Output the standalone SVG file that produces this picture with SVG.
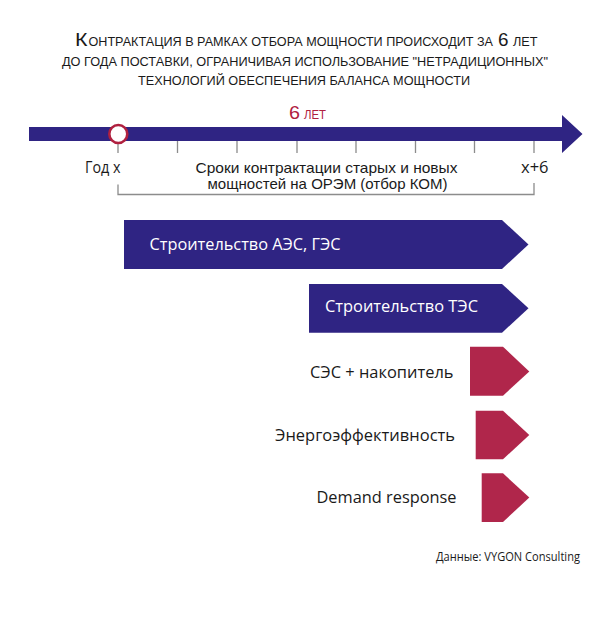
<svg xmlns="http://www.w3.org/2000/svg" width="612" height="618" viewBox="0 0 612 618">
<style>
text { font-family: "Open Sans", "Noto Sans", "DejaVu Sans", sans-serif; fill: #1a1a1a; }
.title { font-family: "Liberation Sans", Arial, sans-serif; font-size: 12.6px; }
.big { font-family: "Liberation Sans", Arial, sans-serif; font-size: 19px; }
.lbl { font-size: 16px; }
.plbl { font-family: "Liberation Sans", Arial, sans-serif; font-size: 15px; }
.wlbl { font-size: 17px; fill: #ffffff; }
.blbl { font-size: 17px; }
.rtx { fill: #b0203f; }
.blue { fill: #2f2483; }
.red { fill: #b0264b; }
.tick { stroke: #8c8c8c; stroke-width: 1.3; fill: none; }
</style>
<rect width="612" height="618" fill="#ffffff"/>
<g id="title">
  <text class="big" x="75" y="45.5" textLength="12.5" lengthAdjust="spacingAndGlyphs">К</text>
  <text class="title" x="88.5" y="45.5" textLength="404.5" lengthAdjust="spacingAndGlyphs">ОНТРАКТАЦИЯ В РАМКАХ ОТБОРА МОЩНОСТИ ПРОИСХОДИТ ЗА</text>
  <text class="big" x="498" y="45.5" textLength="10.5" lengthAdjust="spacingAndGlyphs">6</text>
  <text class="title" x="513" y="45.5" textLength="24.5" lengthAdjust="spacingAndGlyphs">ЛЕТ</text>
  <text class="title" x="62" y="65.5" textLength="486" lengthAdjust="spacingAndGlyphs">ДО ГОДА ПОСТАВКИ, ОГРАНИЧИВАЯ ИСПОЛЬЗОВАНИЕ "НЕТРАДИЦИОННЫХ"</text>
  <text class="title" x="138" y="85" textLength="332" lengthAdjust="spacingAndGlyphs">ТЕХНОЛОГИЙ ОБЕСПЕЧЕНИЯ БАЛАНСА МОЩНОСТИ</text>
</g>
<g id="timeline">
  <path class="blue" d="M29,127 H562 V115 L582.5,134 L562,153 V141 H29 Z"/>
  <text class="big rtx" x="289" y="119" textLength="11" lengthAdjust="spacingAndGlyphs">6</text>
  <text class="title rtx" x="304" y="119" textLength="22" lengthAdjust="spacingAndGlyphs">ЛЕТ</text>
</g>
<g id="connectors">
  <path class="tick" d="M118,143 V153 M177.5,141 V153 M237,141 V153 M297,141 V153 M356,141 V153 M415.5,141 V153 M474.5,141 V153 M534,141 V153"/>
  <path class="tick" d="M118,184.5 V194.5 H534 V183"/>
</g>
<g id="year-start">
  <circle cx="118.3" cy="134" r="9" fill="#ffffff" stroke="#b0203f" stroke-width="2.6"/>
  <text class="lbl" x="85" y="172.5" textLength="35.5" lengthAdjust="spacingAndGlyphs">Год x</text>
</g>
<g id="year-end">
  <text class="lbl" x="521" y="172.5" textLength="27.5" lengthAdjust="spacingAndGlyphs">x+6</text>
</g>
<g id="period-label">
  <text class="plbl" x="195.5" y="172.5" textLength="262" lengthAdjust="spacingAndGlyphs">Сроки контрактации старых и новых</text>
  <text class="plbl" x="207.5" y="188.8" textLength="240" lengthAdjust="spacingAndGlyphs">мощностей на ОРЭМ (отбор КОМ)</text>
</g>
<g id="npp-hpp">
  <path class="blue" d="M124,220 H502 L528.5,244.5 L502,269 H124 Z"/>
  <text class="wlbl" x="149.5" y="250" textLength="191" lengthAdjust="spacingAndGlyphs">Строительство АЭС, ГЭС</text>
</g>
<g id="tpp">
  <path class="blue" d="M309,284 H502 L528.5,308.3 L502,332.7 H309 Z"/>
  <text class="wlbl" x="325" y="312" textLength="153" lengthAdjust="spacingAndGlyphs">Строительство ТЭС</text>
</g>
<g id="solar-storage">
  <path class="red" d="M470,346.7 H503 L529.3,371.5 L503,395.7 H470 Z"/>
  <text class="blbl" x="310" y="378" textLength="143.5" lengthAdjust="spacingAndGlyphs">СЭС + накопитель</text>
</g>
<g id="efficiency">
  <path class="red" d="M475.7,410.7 H503 L529.3,435 L503,459.3 H475.7 Z"/>
  <text class="blbl" x="275" y="441" textLength="180" lengthAdjust="spacingAndGlyphs">Энергоэффективность</text>
</g>
<g id="demand-response">
  <path class="red" d="M481.7,473.3 H503 L529.3,497.5 L503,522 H481.7 Z"/>
  <text class="blbl" x="316.5" y="503" textLength="140" lengthAdjust="spacingAndGlyphs">Demand response</text>
</g>
<g id="source">
  <text x="436" y="561" style="font-size:12px" textLength="144" lengthAdjust="spacingAndGlyphs">Данные: VYGON Consulting</text>
</g>
</svg>
